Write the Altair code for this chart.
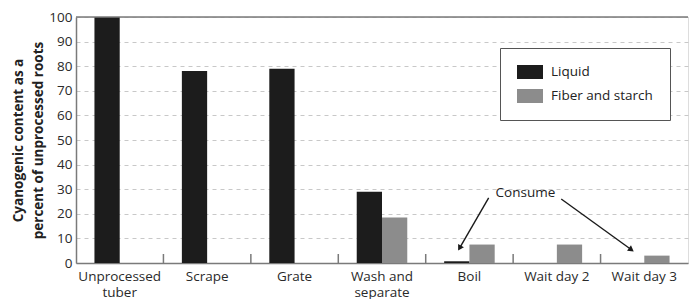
import math
import altair as alt
import pandas as pd

categories = ["Unprocessed\ntuber", "Scrape", "Grate", "Wash and\nseparate", "Boil", "Wait day 2", "Wait day 3"]
series = ["Liquid", "Fiber and starch"]
liquid = [100, 78, 79, 29, 0.7, 0, 0]
fiber = [0, 0, 0, 18.5, 7.5, 7.5, 3]
colors = ["#1c1c1c", "#8c8c8c"]
y_ticks = [0, 10, 20, 30, 40, 50, 60, 70, 80, 90, 100]

# annotation (category-index units on x, percent on y)
note_text = ["Consume"]
note_x = [5.14]
note_y = [28.4]
arrow_x1 = [4.72, 5.55]
arrow_y1 = [26.5, 26.0]
arrow_x2 = [4.37, 6.38]
arrow_y2 = [5.0, 4.7]

W, H = 612, 246
FONT = "Open Sans"

rows = []
for i, c in enumerate(categories):
    rows.append({"cat": c, "series": series[0], "value": liquid[i]})
    rows.append({"cat": c, "series": series[1], "value": fiber[i]})
df = pd.DataFrame(rows)

xs = alt.Scale(domain=categories, paddingInner=0, paddingOuter=0)
ys = alt.Scale(domain=[0, 100], nice=False)
y_axis = alt.Axis(values=y_ticks, title=["Cyanogenic content as a", "percent of unprocessed roots"],
                  titleFontSize=13.5, titleFontWeight="bold", titleFont=FONT, titleColor="#222",
                  titleLineHeight=20, titlePadding=3, labelOverlap=False,
                  labelFontSize=13.5, labelColor="#2a2a2a", labelFont=FONT, labelPadding=4,
                  ticks=False, domainColor="#7a7a7a", domainWidth=1.5,
                  grid=True, gridDash=[4, 4], gridColor="#c8c8c8", gridWidth=1)

bars = alt.Chart(df).mark_bar().encode(
    x=alt.X("cat:N", sort=categories, scale=xs,
            axis=alt.Axis(title=None, labelAngle=0, ticks=False, labelPadding=6,
                          labelExpr="split(datum.label, '\\n')", labelLineHeight=16,
                          labelFontSize=13.5, labelColor="#2a2a2a", labelFont=FONT,
                          domainColor="#7a7a7a", domainWidth=1.5, grid=False)),
    xOffset=alt.XOffset("series:N", sort=series,
                        scale=alt.Scale(domain=series, paddingInner=0, paddingOuter=0.73)),
    y=alt.Y("value:Q", scale=ys, axis=y_axis),
    color=alt.Color("series:N", sort=series,
                    scale=alt.Scale(domain=series, range=colors),
                    legend=alt.Legend(title=None, orient="none", legendX=424, legendY=31,
                                      strokeColor="#555", fillColor="white",
                                      padding=17, labelFontSize=13.5, labelFont=FONT, labelColor="#222",
                                      symbolType="M-1,-1H2.714V1H-1Z", symbolSize=196,
                                      symbolStrokeWidth=0, symbolOpacity=1,
                                      rowPadding=10, labelOffset=20)),
)

tick_df = pd.DataFrame({"cat": categories[1:]})
ticks = alt.Chart(tick_df).mark_rule(color="#7a7a7a", strokeWidth=1.5).encode(
    x=alt.X("cat:N", sort=categories, scale=xs, bandPosition=0),
    y=alt.value(H - 9), y2=alt.value(H),
)

top_df = pd.DataFrame({"v": [100]})
top = alt.Chart(top_df).mark_rule(color="#7a7a7a", strokeWidth=1.5).encode(
    y=alt.Y("v:Q", scale=ys, axis=y_axis),
)

# arrows
px_x = W / len(categories)
px_y = H / 100.0
seg_rows, head_rows = [], []
for k in range(len(arrow_x1)):
    dxp = (arrow_x2[k] - arrow_x1[k]) * px_x
    dyp = -(arrow_y2[k] - arrow_y1[k]) * px_y
    L = math.hypot(dxp, dyp)
    ux, uy = dxp / L, dyp / L
    ang = math.degrees(math.atan2(ux, -uy)) % 360
    lx = arrow_x2[k] - ux * 5 / px_x
    ly = arrow_y2[k] + uy * 5 / px_y
    hx = arrow_x2[k] - ux * 3 / px_x
    hy = arrow_y2[k] + uy * 3 / px_y
    seg_rows.append({"id": k, "o": 0, "x": arrow_x1[k], "y": arrow_y1[k]})
    seg_rows.append({"id": k, "o": 1, "x": lx, "y": ly})
    head_rows.append({"x": hx, "y": hy, "ang": ang})

qx = alt.Scale(domain=[0, len(categories)], nice=False, zero=False)

lines = alt.Chart(pd.DataFrame(seg_rows)).mark_line(color="#1a1a1a", strokeWidth=1.4).encode(
    x=alt.X("x:Q", scale=qx, axis=None),
    y=alt.Y("y:Q", scale=ys, axis=y_axis),
    detail="id:N", order="o:Q",
)
heads = alt.Chart(pd.DataFrame(head_rows)).mark_point(shape="triangle-up", filled=True,
                                                       color="#1a1a1a", size=45, opacity=1).encode(
    x=alt.X("x:Q", scale=qx, axis=None),
    y=alt.Y("y:Q", scale=ys, axis=y_axis),
    angle=alt.Angle("ang:Q", scale=None),
)
note = alt.Chart(pd.DataFrame({"t": note_text, "x": note_x, "y": note_y})).mark_text(
    fontSize=13.5, font=FONT, color="#222", align="center", baseline="middle").encode(
    x=alt.X("x:Q", scale=qx, axis=None),
    y=alt.Y("y:Q", scale=ys, axis=y_axis),
    text="t:N",
)

annot = alt.layer(lines, heads, note)

chart = alt.layer(alt.layer(bars, ticks, top), annot).resolve_scale(x="independent").properties(
    width=W, height=H, padding={"left": 3, "top": 2, "right": 0, "bottom": 0}
).configure_view(stroke=None).configure(background="white")

chart.save("out.html", embed_options={"renderer": "svg", "actions": False})
